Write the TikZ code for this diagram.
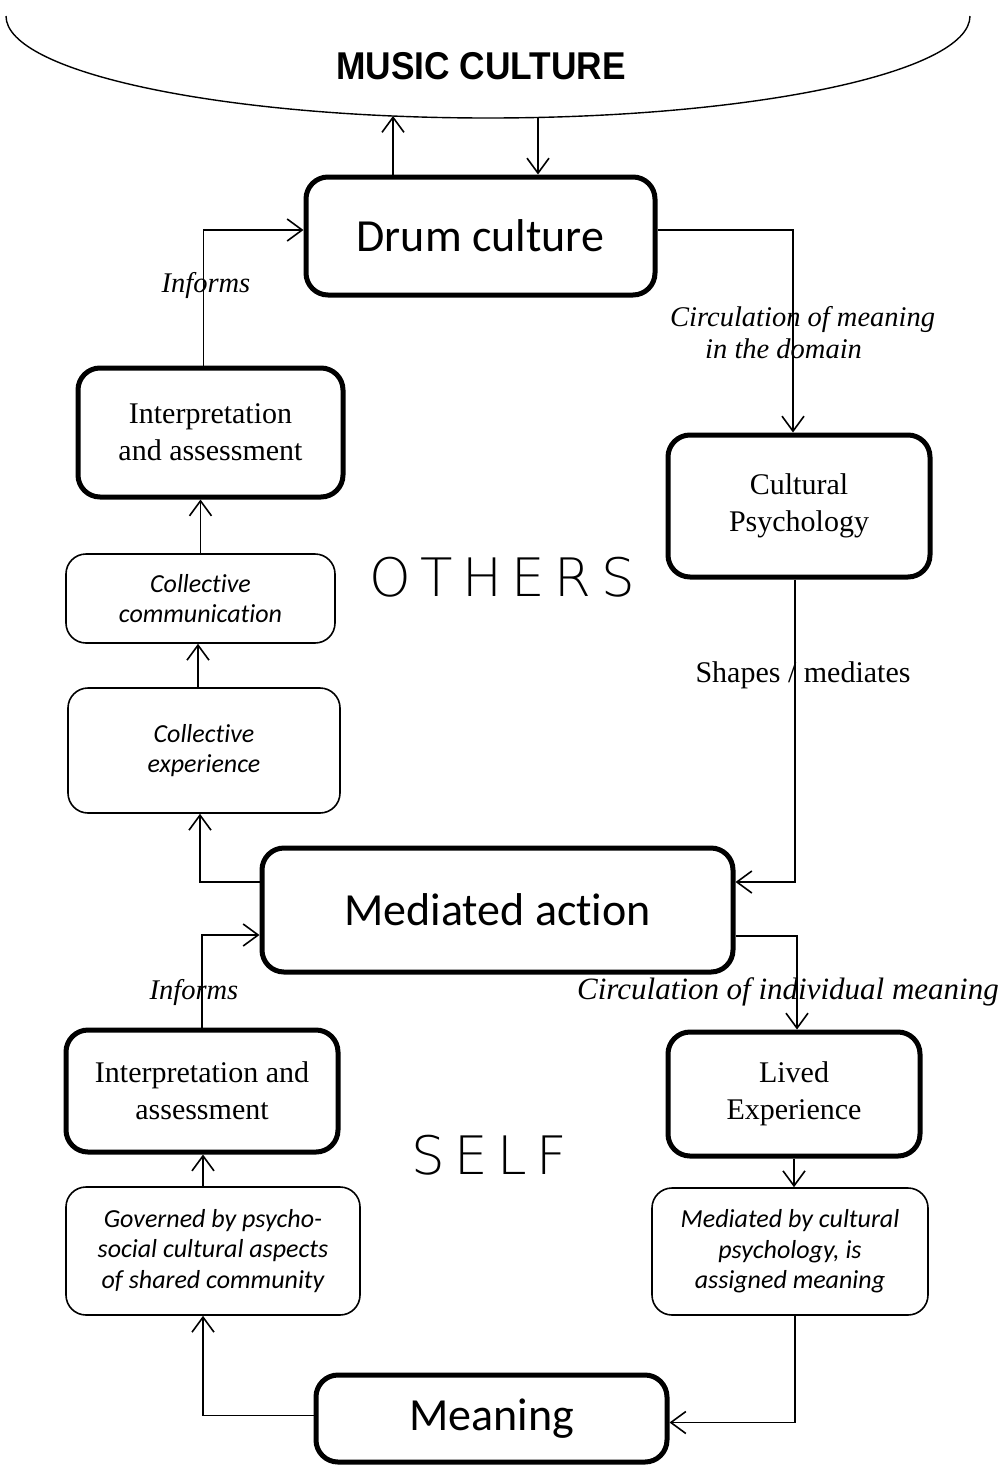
\documentclass[tikz,border=0pt]{standalone}
\usepackage{fontspec}
\usetikzlibrary{arrows.meta}
\setmainfont{Liberation Serif}
\newfontfamily\calfont{Carlito}[Ligatures={NoCommon}]
\newfontfamily\headfont{Liberation Sans}
\IfFontExistsTF{DejaVuSans-ExtraLight.ttf}
  {\newfontfamily\handfont{DejaVuSans-ExtraLight.ttf}[LetterSpace=18]}
  {\newfontfamily\handfont{DejaVu Sans}[LetterSpace=18]}

\tikzset{
  heavy/.style={draw, line width=5pt, rounded corners=22pt, inner sep=0pt, align=center},
  light/.style={draw, line width=1.6pt, rounded corners=20pt, inner sep=0pt, align=center,
    font=\calfont\itshape\fontsize{26}{30.5}\selectfont},
  bigtext/.style={font=\calfont\fontsize{46}{55}\selectfont},
  serif/.style={font=\fontsize{30}{37}\selectfont},
  flow/.style={line width=1.6pt, -{Straight Barb[length=15pt,width=22pt,line width=1.6pt]}},
  edgelabel/.style={font=\itshape\fontsize{28.5}{32}\selectfont, inner sep=0pt},
  zone/.style={font=\handfont\fontsize{53}{53}\selectfont, inner sep=0pt}
}

\begin{document}
\begin{tikzpicture}[x=1pt, y=-1pt]
\useasboundingbox (0,0) rectangle (1003,1465);

% the surrounding culture, drawn as the lower half of a wide ellipse
\draw[line width=1.4pt] (6,16) arc[start angle=180, end angle=0, x radius=482, y radius=102];
\node[font=\headfont\bfseries\fontsize{38}{38}\selectfont, inner sep=0pt] (music) at (481,66)
  {\scalebox{0.93}[1.02]{MUSIC CULTURE}};
\coordinate (mcL) at (393,116);
\coordinate (mcR) at (538,117);

% boxes
\node[heavy, bigtext, minimum width=349pt, minimum height=118pt] (drum) at (480.5,236) {Drum culture};
\node[heavy, serif, minimum width=265pt, minimum height=129pt] (interpT) at (210.5,432.5) {Interpretation\\and assessment};
\node[heavy, serif, minimum width=262pt, minimum height=142pt] (cultpsy) at (799,506) {Cultural\\Psychology};
\node[light, minimum width=269pt, minimum height=89pt] (colcom) at (200.5,598.5) {Collective\\communication};
\node[light, minimum width=272pt, minimum height=125pt] (colexp) at (204,750.5) {Collective\\experience};
\node[heavy, bigtext, minimum width=471pt, minimum height=124pt] (medact) at (497.5,910) {Mediated action};
\node[heavy, serif, minimum width=272pt, minimum height=122pt] (interpB) at (202,1091) {Interpretation and\\assessment};
\node[heavy, serif, minimum width=252pt, minimum height=124pt] (lived) at (794,1094) {Lived\\Experience};
\node[light, minimum width=294pt, minimum height=128pt] (gov) at (213,1251) {Governed by psycho-\\social cultural aspects\\of shared community};
\node[light, minimum width=276pt, minimum height=127pt] (medby) at (790,1251.5) {Mediated by cultural\\psychology, is\\assigned meaning};
\node[heavy, bigtext, minimum width=351pt, minimum height=87pt] (meaning) at (491.5,1418.5) {Meaning};

% zone labels
\node[zone] (others) at (502,577) {OTHERS};
\node[zone] (self) at (489,1155) {SELF};

% links to the surrounding culture
\draw[flow] (drum.north -| mcL) -- (mcL);
\draw[flow] (mcR) -- (drum.north -| mcR);

% upper cycle
\draw[flow] ([xshift=-7pt]interpT.north) |- ([yshift=6pt]drum.west);
\draw[flow] ([yshift=6pt]drum.east) -| ([xshift=-6pt]cultpsy.north);
\draw[flow] (colcom.north) -- (colcom.north |- interpT.south);
\draw[flow] ([xshift=-6pt]colexp.north) -- ([xshift=-6pt]colexp.north |- colcom.south);
\draw[flow] ([yshift=28pt]medact.west) -| ([xshift=-4pt]colexp.south);
\draw[flow] ([xshift=-4pt]cultpsy.south) |- ([yshift=28pt]medact.east);

% lower cycle
\draw[flow] (interpB.north) |- ([yshift=-25pt]medact.west);
\draw[flow] ([yshift=-26pt]medact.east) -| ([xshift=3pt]lived.north);
\draw[flow] ([xshift=-10pt]gov.north) -- ([xshift=-10pt]gov.north |- interpB.south);
\draw[flow] (lived.south) -- (lived.south |- medby.north);
\draw[flow] ([yshift=3pt]meaning.west) -| ([xshift=-10pt]gov.south);
\draw[flow] ([xshift=5pt]medby.south) |- ([yshift=-4pt]meaning.east);

% connector labels
\node[edgelabel] (inf1) at (206,285) {Informs};
\node[edgelabel, align=left, anchor=north west] (circ1) at (670,306)
  {Circulation of meaning\\\hspace*{35pt}in the domain};
\node[font=\fontsize{30}{36}\selectfont, inner sep=0pt] (shapes) at (803,675) {Shapes / mediates};
\node[edgelabel] (inf2) at (194,992) {Informs};
\node[edgelabel, font=\itshape\fontsize{31}{34}\selectfont] (circ2) at (788,992) {Circulation of individual meaning};
\end{tikzpicture}
\end{document}
